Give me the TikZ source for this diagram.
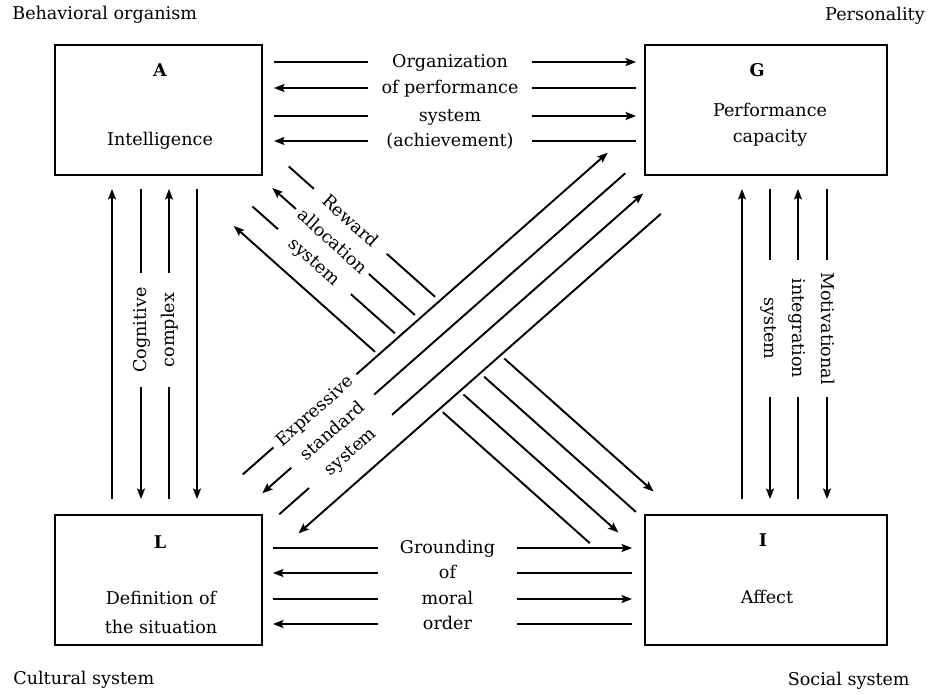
\documentclass[tikz,border=0pt]{standalone}
\usepackage{fontspec}
\setmainfont{DejaVu Serif}
\usetikzlibrary{arrows.meta}

\tikzset{
  sysbox/.style={draw, line width=1.1pt, minimum height=2.6cm, inner sep=0pt},
  syskey/.style={font=\fontsize{10}{14.8}\selectfont\bfseries},
  flow/.style={line width=1.1pt},
  tip/.style={-{Stealth[length=0.21cm, width=0.16cm, inset=0.04cm]}},
  rowtext/.style={inner sep=0pt, text height=1.5ex, text depth=0.3ex},
  corner/.style={inner sep=0pt},
}

\begin{document}
\begin{tikzpicture}[x=0.02cm, y=-0.02cm, font=\fontsize{10}{14.8}\selectfont]
  \useasboundingbox (0,0) rectangle (940,694);

  %%%%% boxes %%%%%
  \node[sysbox, minimum width=4.14cm] (A) at (158.5,110) {};
  \node[sysbox, minimum width=4.84cm] (G) at (766,110) {};
  \node[sysbox, minimum width=4.14cm] (L) at (158.5,580) {};
  \node[sysbox, minimum width=4.84cm] (I) at (766,580) {};

  \node[syskey] (Akey) at (160,70) {A};
  \node (Aname) at (160,141) {Intelligence};
  \node[syskey] (Gkey) at (757,70) {G};
  \node[align=center] (Gname) at (770,125) {Performance\\capacity};
  \node[syskey] (Lkey) at (160,542) {L};
  \node[align=center] (Lname) at (161,612.5) {Definition of\\[1.5pt]the situation};
  \node[syskey] (Ikey) at (763,540) {I};
  \node (Iname) at (767,597) {Affect};

  \node[corner, anchor=west] (beh) at (12,15) {Behavioral organism};
  \node[corner, anchor=east] (pers) at (925,16) {Personality};
  \node[corner, anchor=west] (cult) at (13,680) {Cultural system};
  \node[corner, anchor=east] (soc) at (910,681) {Social system};

  %%%%% A -- G %%%%%
  \foreach \n/\y/\t in {o1/62/Organization, o2/88/of performance, o3/116/system, o4/141/(achievement)}
    \node[rowtext, minimum width=3.28cm] (\n) at (450,\y) {\t};
  \foreach \n/\l/\r in {o1/-/tip, o2/tip/-, o3/-/tip, o4/tip/-} {
    \draw[flow, \l, shorten >=0.22cm] (\n.west) -- (\n.west -| A.east);
    \draw[flow, \r, shorten >=0.16cm] (\n.east) -- (\n.east -| G.west);
  }

  %%%%% L -- I %%%%%
  \foreach \n/\y/\t in {g1/548/Grounding, g2/573/of, g3/599/moral, g4/624/order}
    \node[rowtext, minimum width=2.78cm] (\n) at (447.5,\y) {\t};
  \foreach \n/\l/\r in {g1/-/tip, g2/tip/-, g3/-/tip, g4/tip/-} {
    \draw[flow, \l, shorten >=0.2cm] (\n.west) -- (\n.west -| L.east);
    \draw[flow, \r, shorten >=0.24cm] (\n.east) -- (\n.east -| I.west);
  }

  %%%%% A -- L %%%%%
  \node[rowtext, rotate=90, minimum width=2.28cm] (cog) at (141,330) {Cognitive};
  \node[rowtext, rotate=90, minimum width=2.28cm] (cpx) at (169,330) {complex};
  \coordinate (cl1) at (112,330);
  \coordinate (cl4) at (197,330);
  \draw[flow, tip, shorten <=0.3cm, shorten >=0.26cm] (cl1 |- L.north) -- (cl1 |- A.south);
  \draw[flow, tip, shorten <=0.26cm, shorten >=0.3cm] (cl4 |- A.south) -- (cl4 |- L.north);
  \draw[flow, shorten >=0.26cm] (cog.east) -- (cog.east |- A.south);
  \draw[flow, tip, shorten >=0.3cm] (cog.west) -- (cog.west |- L.north);
  \draw[flow, tip, shorten >=0.26cm] (cpx.east) -- (cpx.east |- A.south);
  \draw[flow, shorten >=0.3cm] (cpx.west) -- (cpx.west |- L.north);

  %%%%% G -- I %%%%%
  \node[rowtext, rotate=-90, minimum width=2.74cm] (msys) at (770,328.5) {system};
  \node[rowtext, rotate=-90, minimum width=2.74cm] (integ) at (798,328.5) {integration};
  \node[rowtext, rotate=-90, minimum width=2.74cm] (motiv) at (827,328.5) {Motivational};
  \coordinate (cr1) at (742,330);
  \draw[flow, tip, shorten <=0.3cm, shorten >=0.26cm] (cr1 |- I.north) -- (cr1 |- G.south);
  \draw[flow, shorten >=0.26cm] (msys.west) -- (msys.west |- G.south);
  \draw[flow, tip, shorten >=0.3cm] (msys.east) -- (msys.east |- I.north);
  \draw[flow, tip, shorten >=0.26cm] (integ.west) -- (integ.west |- G.south);
  \draw[flow, shorten >=0.3cm] (integ.east) -- (integ.east |- I.north);
  \draw[flow, shorten >=0.26cm] (motiv.west) -- (motiv.west |- G.south);
  \draw[flow, tip, shorten >=0.3cm] (motiv.east) -- (motiv.east |- I.north);

  %%%%% A -- I (broken where it crosses L -- G) %%%%%
  \begin{scope}[shift={(439.5,355)}, rotate=-41.7, transform shape]
    \node[rowtext, minimum width=1.94cm] (rew) at (-155.5,-40.5) {Reward};
    \node[rowtext, minimum width=1.94cm] (alloc) at (-155.5,-13.5) {allocation};
    \node[rowtext, minimum width=1.94cm] (rsys) at (-155.5,13.5) {system};
    \draw[flow] (-238,-40.5) -- (rew.west);
    \draw[flow] (rew.east) -- (-42,-40.5);
    \draw[flow, tip] (50.7,-40.5) -- (250.6,-40.5);
    \draw[flow, tip] (alloc.west) -- (-236,-13.5);
    \draw[flow] (alloc.east) -- (-45,-13.5);
    \draw[flow] (251,-13.5) -- (47.8,-13.5);
    \draw[flow] (-238.5,13.5) -- (rsys.west);
    \draw[flow] (rsys.east) -- (-47.8,13.5);
    \draw[flow, tip] (44.2,13.5) -- (251.7,13.5);
    \draw[flow, tip] (-50.2,40.5) -- (-239.4,40.5);
    \draw[flow] (237.4,40.5) -- (40.5,40.5);
  \end{scope}

  %%%%% L -- G %%%%%
  \begin{scope}[shift={(439.5,355)}, rotate=41.4, transform shape]
    \node[rowtext, minimum width=2.2cm] (expr) at (-130.5,-40.5) {Expressive};
    \node[rowtext, minimum width=2.2cm] (stand) at (-130.5,-13.5) {standard};
    \node[rowtext, minimum width=2.2cm] (esys) at (-130.5,13.5) {system};
    \draw[flow] (-226.5,-40.5) -- (expr.west);
    \draw[flow, tip] (expr.east) -- (260,-40.5);
    \draw[flow, tip] (stand.west) -- (-224.5,-13.5);
    \draw[flow] (stand.east) -- (259.5,-13.5);
    \draw[flow] (-225.5,13.5) -- (esys.west);
    \draw[flow, tip] (esys.east) -- (259.7,13.5);
    \draw[flow, tip] (259.4,40.5) -- (-223.8,40.5);
  \end{scope}
\end{tikzpicture}
\end{document}
